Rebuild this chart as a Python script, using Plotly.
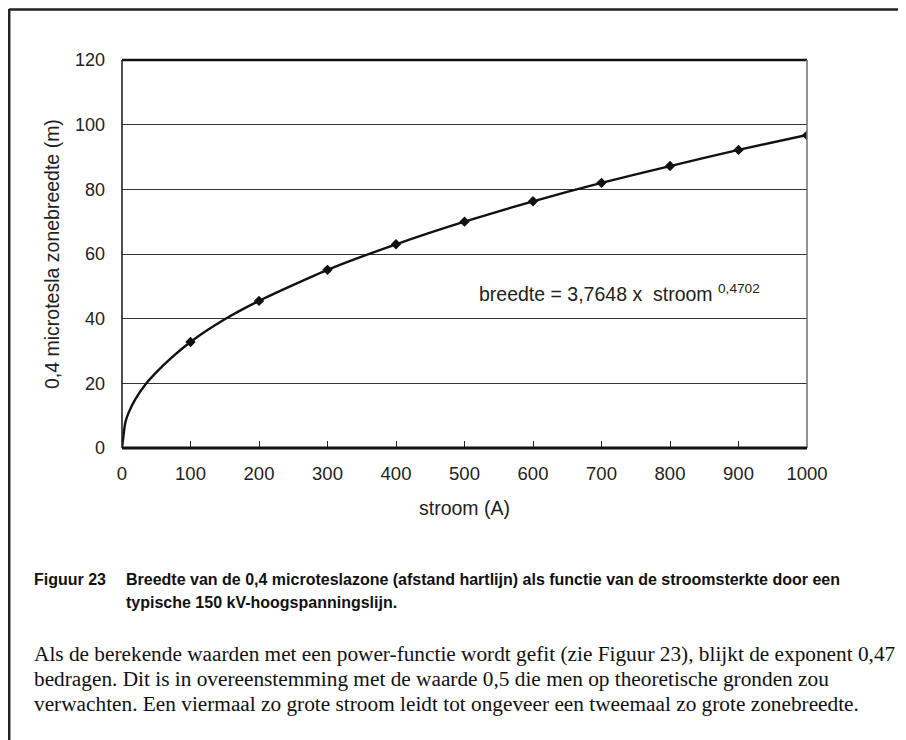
import plotly.graph_objects as go

# ---- data ----
stroom = [100, 200, 300, 400, 500, 600, 700, 800, 900, 1000]
breedte = [32.8, 45.5, 55.1, 63.0, 70.0, 76.3, 82.0, 87.2, 92.2, 96.7]

# fitted trend curve
trend_x = [0, 5, 10, 20, 35, 50, 70, 100, 150, 200, 300, 400, 500, 600, 700, 800, 900, 1000]
trend_y = [0, 8.0, 11.1, 15.3, 19.9, 23.4, 27.5, 32.8, 39.8, 45.5, 55.1, 63.0, 70.0, 76.3, 82.0, 87.2, 92.2, 96.8]

x_ticks = [0, 100, 200, 300, 400, 500, 600, 700, 800, 900, 1000]
y_ticks = [0, 20, 40, 60, 80, 100, 120]

equation = "breedte = 3,7648 x\u00a0\u00a0stroom <sup>0,4702</sup>"
x_title = "stroom (A)"
y_title = "0,4 microtesla zonebreedte (m)"
cap_num = "Figuur 23"
cap_l1 = "Breedte van de 0,4 microteslazone (afstand hartlijn) als functie van de stroomsterkte door een"
cap_l2 = "typische 150 kV-hoogspanningslijn."
body = [
    "Als de berekende waarden met een power-functie wordt gefit (zie Figuur 23), blijkt de exponent 0,47 te",
    "bedragen. Dit is in overeenstemming met de waarde 0,5 die men op theoretische gronden zou",
    "verwachten. Een viermaal zo grote stroom leidt tot ongeveer een tweemaal zo grote zonebreedte.",
]

# page offset (browser body margin) so positions below are in reference pixels
OFF = 8
W, H = 906, 740
L, R, T, B = 122 - OFF, 807 - OFF, 60 - OFF, 448 - OFF


def px(xp):
    return (xp - OFF - L) / (R - L)


def py(yp):
    return (B - (yp - OFF)) / (B - T)


fig = go.Figure()
fig.add_trace(go.Scatter(x=trend_x, y=trend_y, mode="lines",
                         line=dict(color="#111", width=2.4, shape="spline", smoothing=0.6),
                         hoverinfo="skip", showlegend=False))
fig.add_trace(go.Scatter(x=stroom, y=breedte, mode="markers",
                         marker=dict(symbol="diamond", size=8, color="#111"),
                         showlegend=False))

font_sans = "Liberation Sans, Arial, sans-serif"
fig.update_layout(
    width=W, height=H,
    margin=dict(l=L, r=W - R, t=T, b=H - B, pad=0),
    paper_bgcolor="white", plot_bgcolor="white",
    font=dict(family=font_sans, size=18, color="#222"),
    xaxis=dict(range=[0, 1000], tickvals=x_ticks, ticks="inside", ticklen=7,
               tickcolor="#222", tickwidth=1.3, showgrid=False, zeroline=False,
               showline=False, tickfont=dict(size=18.5), ticklabelstandoff=12),
    yaxis=dict(range=[0, 120], tickvals=y_ticks, showgrid=True, gridcolor="#333",
               gridwidth=1.1, zeroline=False, showline=False, ticks="",
               tickfont=dict(size=18), ticklabelstandoff=16),
)

shapes = [
    # plot frame
    dict(type="line", xref="paper", yref="paper", x0=0, x1=1, y0=1, y1=1, line=dict(color="#111", width=2.5)),
    dict(type="line", xref="paper", yref="paper", x0=0, x1=0, y0=0, y1=1, line=dict(color="#222", width=1.6)),
    dict(type="line", xref="paper", yref="paper", x0=1, x1=1, y0=0, y1=1, line=dict(color="#777", width=1.6)),
    dict(type="line", xref="paper", yref="paper", x0=0, x1=1, y0=0, y1=0, line=dict(color="#111", width=3)),
    # outer page box
    dict(type="line", xref="paper", yref="paper", x0=px(9.2), x1=px(9.2), y0=py(9), y1=py(760), line=dict(color="#222", width=2.5)),
    dict(type="line", xref="paper", yref="paper", x0=px(9), x1=px(930), y0=py(9.5), y1=py(9.5), line=dict(color="#222", width=2.5)),
]
fig.update_layout(shapes=shapes)

cap_font = dict(family="Liberation Sans, Arial, sans-serif", size=16, color="#111")
ann = [
    dict(x=518, y=47.8, xref="x", yref="y", text=equation, showarrow=False,
         xanchor="left", yanchor="middle", font=dict(size=19.5, color="#222")),
    dict(x=0.5, y=py(508), xref="paper", yref="paper", text=x_title, showarrow=False,
         xanchor="center", yanchor="middle", font=dict(size=19.5, color="#222")),
    dict(x=px(52), y=0.5, xref="paper", yref="paper", text=y_title, showarrow=False,
         textangle=-90, xanchor="center", yanchor="middle", font=dict(size=19.5, color="#222")),
    dict(x=px(32), y=py(579), xref="paper", yref="paper", text="<b>" + cap_num + "</b>", showarrow=False,
         xanchor="left", yanchor="middle", font=cap_font),
    dict(x=px(124), y=py(579), xref="paper", yref="paper", text="<b>" + cap_l1 + "</b>", showarrow=False,
         xanchor="left", yanchor="middle", font=cap_font),
    dict(x=px(124), y=py(602), xref="paper", yref="paper", text="<b>" + cap_l2 + "</b>", showarrow=False,
         xanchor="left", yanchor="middle", font=cap_font),
]
for i, line in enumerate(body):
    ann.append(dict(x=px(32), y=py(654 + 25 * i), xref="paper", yref="paper", text=line,
                    showarrow=False, xanchor="left", yanchor="middle",
                    font=dict(family="Liberation Serif, Times New Roman, serif", size=21.3, color="#111")))
fig.update_layout(annotations=ann)

fig.write_html("out.html")
